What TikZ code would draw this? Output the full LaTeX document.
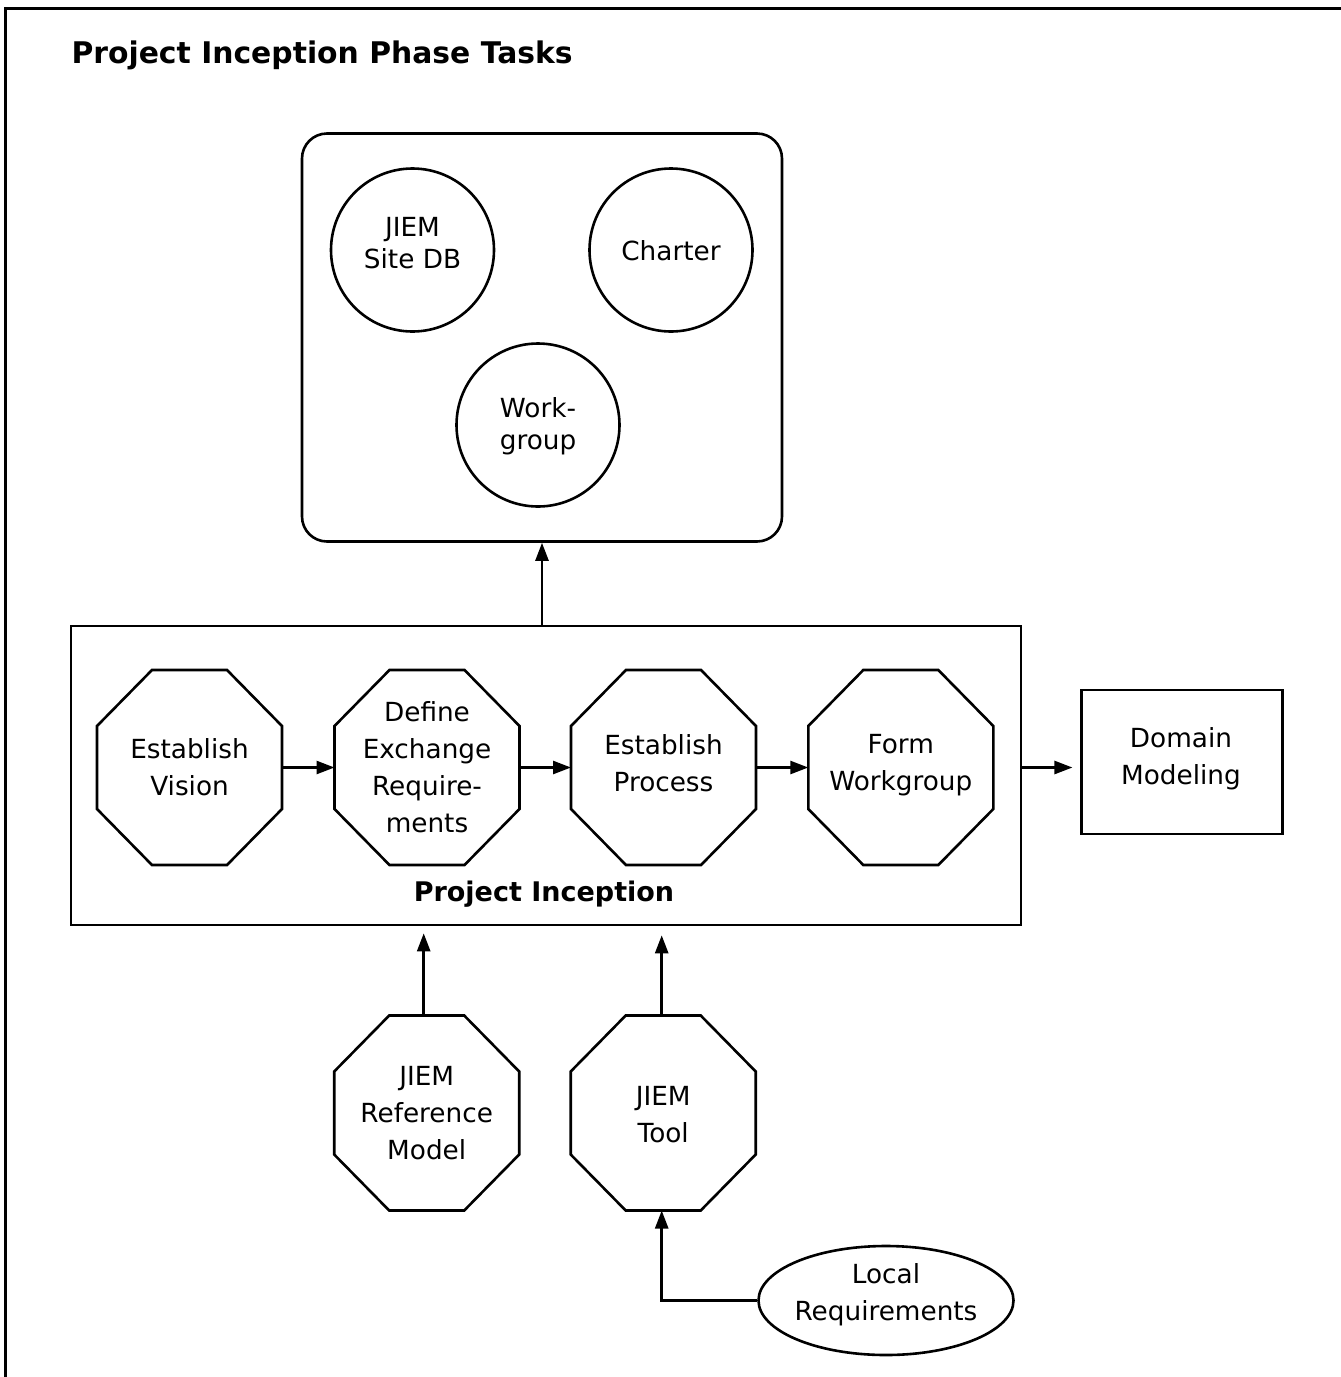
\documentclass[tikz,border=0pt]{standalone}
\usepackage{fontspec}
\setmainfont{DejaVu Sans}
\usetikzlibrary{arrows.meta,shapes.geometric,calc}
\tikzset{
  shp/.style={line width=2.6pt},
  txt/.style={align=center,font=\fontsize{26.3}{37}\selectfont},
  ctxt/.style={align=center,font=\fontsize{26.3}{32}\selectfont},
  octo/.style={txt,rectangle,draw=none,outer sep=0pt,minimum width=185pt,minimum height=195pt,inner sep=0pt},
  circ/.style={shp,draw,circle,minimum size=163pt,inner sep=0pt},
  boxn/.style={shp,draw,rectangle,inner sep=0pt},
  arr/.style={line width=2.6pt,-{Triangle[length=18pt,width=13pt]}},
}
\newcommand{\octagon}[1]{%
  \draw[shp,line join=miter] ([xshift=55pt]#1.north west) -- ([xshift=-55pt]#1.north east)
    -- ([yshift=-56pt]#1.north east) -- ([yshift=56pt]#1.south east)
    -- ([xshift=-55pt]#1.south east) -- ([xshift=55pt]#1.south west)
    -- ([yshift=56pt]#1.south west) -- ([yshift=-56pt]#1.north west) -- cycle;}
\begin{document}
\begin{tikzpicture}[x=1pt,y=-1pt]
\useasboundingbox (0,0) rectangle (1341,1377);
\fill[white] (0,0) rectangle (1341,1377);
% frame
\draw[line width=3pt] (5,1385) -- (5,8) -- (1350,8);
\node[anchor=west,font=\fontsize{29.8}{34}\selectfont\bfseries] (title) at (68,55) {Project Inception Phase Tasks};

% top rounded box with circles
\node[boxn,rounded corners=25pt,minimum width=480pt,minimum height=408pt] (top) at (542,337.5) {};
\node[circ] (db) at (412.5,250) {};
\node[ctxt] (dbt) at (412.5,243) {JIEM\\Site DB};
\node[circ] (ch) at (671,250) {};
\node[ctxt] (cht) at (671,251) {Charter};
\node[circ] (wg) at (538,425) {};
\node[ctxt] (wgt) at (538,426) {Work-\\group};

% project inception box
\node[boxn,minimum width=950pt,minimum height=299pt] (pi) at (546,775.5) {};
\node[font=\fontsize{27}{32}\selectfont\bfseries] (pilabel) at (544,894) {Project Inception};

\node[octo] (ev) at (189.5,767.5) {Establish\\Vision};
\node[octo] (de) at (427,767.5) {Define\\Exchange\\Require-\\ments};
\node[octo] (ep) at (663.5,767.5) {};
\node[txt] (ept) at (663.5,763) {Establish\\Process};
\node[octo] (fw) at (900.8,767.5) {};
\node[txt] (fwt) at (900.8,765.5) {Form\\Workgroup};
\node[octo] (rm) at (426.7,1113) {JIEM\\Reference\\Model};
\node[octo] (jt) at (663.2,1113) {};
\node[txt] (jtt) at (663.2,1115) {JIEM\\Tool};
\foreach \n in {ev,de,ep,fw,rm,jt} {\octagon{\n}}

\node[boxn,minimum width=200.5pt,minimum height=144pt] (dm) at (1182,762) {};
\node[txt] (dmt) at (1181,759) {Domain\\Modeling};
\node[shp,draw,ellipse,minimum width=255pt,minimum height=109pt,inner sep=0pt] (lr) at (886,1300.5) {};
\node[txt] (lrt) at (886,1294.5) {Local\\Requirements};

% connectors
\draw[arr] (pi.north -| top.south) -- (top.south);
\draw[arr] (ev) -- (de);
\draw[arr] (de) -- (ep);
\draw[arr] (ep) -- (fw);
\draw[arr,shorten >=8pt] (ev.east -| pi.east) -- (ev.east -| dm.west);
\draw[arr,shorten >=7pt] ([xshift=-3pt]rm.north) -- ([xshift=-3pt]rm.north |- pi.south);
\draw[arr,shorten >=9pt] ([xshift=-1.5pt]jt.north) -- ([xshift=-1.5pt]jt.north |- pi.south);
\draw[arr] (lr.west) -| ([xshift=-1.5pt]jt.south);
\end{tikzpicture}
\end{document}
